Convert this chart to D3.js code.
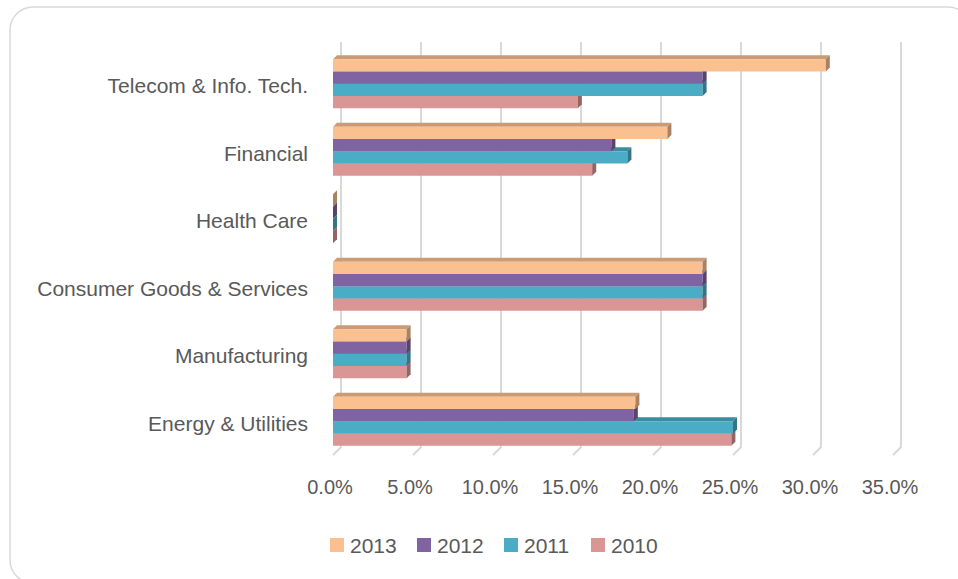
<!DOCTYPE html>
<html>
<head>
<meta charset="utf-8">
<script src="https://cdn.jsdelivr.net/npm/d3@7"></script>
<style>
  html, body { margin: 0; padding: 0; background: #ffffff; }
  svg { display: block; }
  text { font-family: "Liberation Sans", Arial, sans-serif; fill: #595959; }
</style>
</head>
<body>
<svg id="chart" width="958" height="579"></svg>
<script>
// Sector shares by year (percent)
const categories = ["Telecom & Info. Tech.", "Financial", "Health Care",
                    "Consumer Goods & Services", "Manufacturing", "Energy & Utilities"];
const years = ["2013", "2012", "2011", "2010"];
const values2013 = [30.8, 20.9, 0, 23.1, 4.6, 18.9];
const values2012 = [23.1, 17.4, 0, 23.1, 4.6, 18.8];
const values2011 = [23.1, 18.4, 0, 23.1, 4.6, 25.0];
const values2010 = [15.3, 16.2, 0, 23.1, 4.6, 24.9];
const xTicks = [0, 5, 10, 15, 20, 25, 30, 35];
const colors = ["#FAC090", "#8064A2", "#4BACC6", "#D99694"];

const seriesValues = [values2013, values2012, values2011, values2010];

const svg = d3.select("#chart");

// Rounded chart frame
svg.append("rect")
  .attr("x", 10).attr("y", 7)
  .attr("width", 961).attr("height", 576)
  .attr("rx", 23).attr("ry", 23)
  .attr("fill", "#ffffff")
  .attr("stroke", "#D9D9D9")
  .attr("stroke-width", 1.5);

// Front plane scales; the back wall is offset by (depthX, -depthY)
const x = d3.scaleLinear().domain([0, 35]).range([333, 893]);
const y = d3.scaleBand().domain(categories).range([50, 455]);
const depthX = 8, depthY = 8;

// Bars occupy the middle of each band
const groupH = 49;
const barY = d3.scaleBand().domain(years)
  .range([0, groupH]);

// Gridlines on the back wall with their floor segments
const grid = svg.append("g").attr("class", "grid");
xTicks.forEach(t => {
  const bx = x(t) + depthX;
  grid.append("path")
    .attr("d", `M${bx},${50 - depthY}L${bx},${455 - depthY}L${x(t)},455`)
    .attr("fill", "none")
    .attr("stroke", "#D9D9D9")
    .attr("stroke-width", 2);
});

// 3D bars: front face, top face and end cap
const bd = 4; // bar depth offset
const bars = svg.append("g").attr("class", "bars");
categories.forEach((cat, ci) => {
  const y0 = y(cat) + (y.bandwidth() - groupH) / 2;
  // draw lower series first so upper bars cover their top faces
  for (let si = years.length - 1; si >= 0; si--) {
    const v = seriesValues[si][ci];
    const c = d3.color(colors[si]);
    const x0 = x(0), x1 = x(v);
    const top = y0 + barY(years[si]);
    const h = barY.bandwidth();
    const g = bars.append("g");
    // top face
    g.append("path")
      .attr("d", `M${x0},${top}L${x0 + bd},${top - bd}L${x1 + bd},${top - bd}L${x1},${top}Z`)
      .attr("fill", c.darker(0.6));
    // front face
    g.append("rect")
      .attr("x", x0).attr("y", top)
      .attr("width", x1 - x0).attr("height", h)
      .attr("fill", colors[si]);
    // end cap
    g.append("path")
      .attr("d", `M${x1},${top}L${x1 + bd},${top - bd}L${x1 + bd},${top + h - bd}L${x1},${top + h}Z`)
      .attr("fill", c.darker(1.1));
  }
});

// Category labels
svg.append("g").selectAll("text")
  .data(categories)
  .join("text")
  .attr("x", 308)
  .attr("y", d => y(d) + y.bandwidth() / 2 + 2)
  .attr("text-anchor", "end")
  .attr("dominant-baseline", "central")
  .style("font-size", "21px")
  .text(d => d);

// Value axis labels
const fmt = d3.format(".1f");
svg.append("g").selectAll("text")
  .data(xTicks)
  .join("text")
  .attr("x", d => x(d) - 3)
  .attr("y", 487)
  .attr("text-anchor", "middle")
  .attr("dominant-baseline", "central")
  .style("font-size", "20px")
  .text(d => fmt(d) + "%");

// Legend
const legend = svg.append("g");
years.forEach((yr, i) => {
  const lx = 330 + i * 87;
  legend.append("rect")
    .attr("x", lx).attr("y", 538)
    .attr("width", 14).attr("height", 14)
    .attr("fill", colors[i]);
  legend.append("text")
    .attr("x", lx + 20).attr("y", 545)
    .attr("dominant-baseline", "central")
    .style("font-size", "21px")
    .text(yr);
});
</script>
</body>
</html>
